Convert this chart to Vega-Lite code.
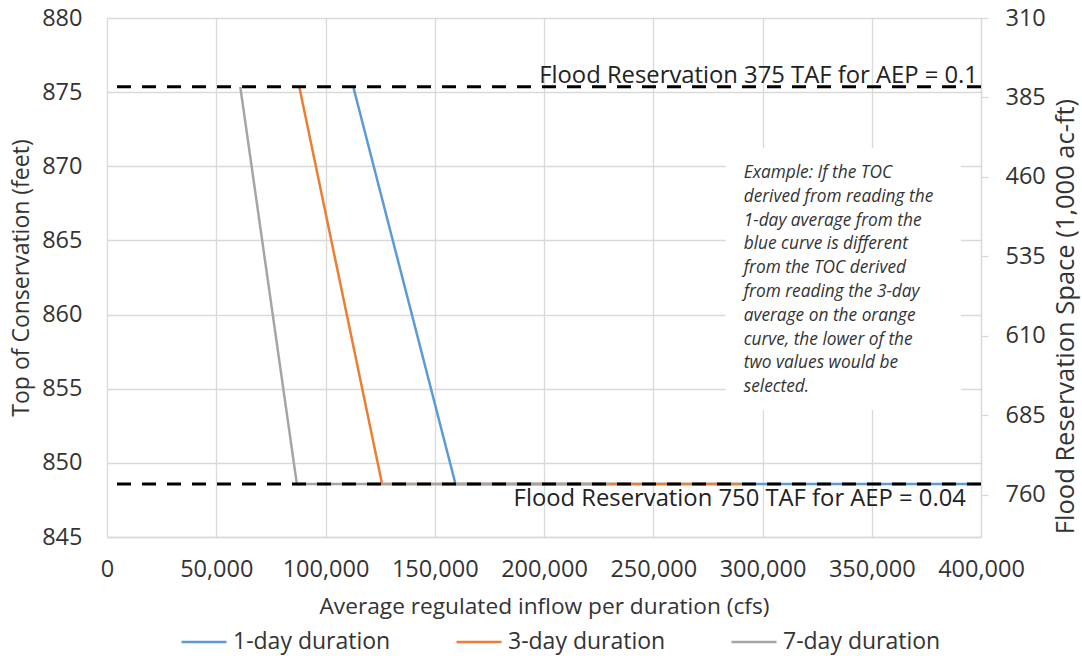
{
  "$schema": "https://vega.github.io/schema/vega-lite/v6.json",
  "width": 874,
  "height": 519,
  "autosize": {"type": "none"},
  "padding": {"left": 107, "top": 18, "right": 101, "bottom": 119},
  "background": "white",
  "config": {
    "font": "Open Sans",
    "view": {"stroke": null},
    "axis": {
      "labelFont": "Open Sans", "titleFont": "Open Sans",
      "labelFontSize": 23.5, "titleFontSize": 22.7,
      "labelColor": "#333333", "titleColor": "#333333",
      "titleFontWeight": "normal",
      "gridColor": "#d9d9d9", "gridWidth": 1.3,
      "domainColor": "#d9d9d9", "domainWidth": 1.3,
      "tickColor": "#d9d9d9", "tickWidth": 1.3
    },
    "legend": {
      "orient": "none", "legendX": 73, "legendY": 600,
      "direction": "horizontal", "symbolType": "stroke",
      "symbolSize": 2025, "symbolStrokeWidth": 2.5,
      "labelFont": "Open Sans", "labelFontSize": 23, "labelColor": "#333333",
      "labelOffset": 5, "columnPadding": 60, "padding": 0
    }
  },
  "datasets": {
    "curves": [
      {"x": 112700, "y": 875.36, "series": "1-day duration"},
      {"x": 159500, "y": 848.57, "series": "1-day duration"},
      {"x": 400000, "y": 848.57, "series": "1-day duration"},
      {"x": 88000, "y": 875.36, "series": "3-day duration"},
      {"x": 125900, "y": 848.57, "series": "3-day duration"},
      {"x": 290000, "y": 848.57, "series": "3-day duration"},
      {"x": 61000, "y": 875.36, "series": "7-day duration"},
      {"x": 86900, "y": 848.57, "series": "7-day duration"},
      {"x": 230000, "y": 848.57, "series": "7-day duration"}
    ],
    "reservation": [
      {"y": 875.36, "x": 398600, "label": "Flood Reservation 375 TAF for AEP = 0.1", "pos": "above"},
      {"y": 848.57, "x": 393100, "label": "Flood Reservation 750 TAF for AEP = 0.04", "pos": "below"}
    ],
    "box": [
      {"x": 283200, "x2": 390800, "y": 871.23, "y2": 853.57}
    ],
    "note": [
      {"x": 291400, "y": 870.16, "lines": ["Example: If the TOC", "derived from reading the", "1-day average from the", "blue curve is different", "from the TOC derived", "from reading the 3-day", "average on the orange", "curve, the lower of the", "two values would be", "selected."]}
    ]
  },
  "layer": [
    {
      "layer": [
        {
          "data": {"name": "box"},
          "mark": {"type": "rect", "fill": "white", "stroke": null},
          "encoding": {
            "x": {"field": "x", "type": "quantitative", "scale": {"domain": [0, 400000], "nice": false}},
            "x2": {"field": "x2"},
            "y": {"field": "y", "type": "quantitative", "scale": {"domain": [845, 880], "nice": false, "zero": false}},
            "y2": {"field": "y2"}
          }
        },
        {
          "data": {"name": "curves"},
          "mark": {"type": "line", "strokeWidth": 2.5},
          "encoding": {
            "x": {
              "field": "x", "type": "quantitative",
              "scale": {"domain": [0, 400000], "nice": false},
              "axis": {
                "title": "Average regulated inflow per duration (cfs)",
                "values": [0, 50000, 100000, 150000, 200000, 250000, 300000, 350000, 400000],
                "format": ",d", "ticks": false, "labelPadding": 20, "titlePadding": 15,
                "labelFlush": false, "labelOverlap": false
              }
            },
            "y": {
              "field": "y", "type": "quantitative",
              "scale": {"domain": [845, 880], "nice": false, "zero": false},
              "axis": {
                "title": "Top of Conservation (feet)",
                "titleFontSize": 23,
                "values": [845, 850, 855, 860, 865, 870, 875, 880],
                "ticks": false, "domain": false, "labelPadding": 25, "titlePadding": 8,
                "labelFlush": false, "labelOverlap": false
              }
            },
            "color": {
              "field": "series", "type": "nominal",
              "scale": {"domain": ["1-day duration", "3-day duration", "7-day duration"], "range": ["#5B9BD5", "#ED7D31", "#A5A5A5"]},
              "legend": {"title": null}
            }
          }
        },
        {
          "data": {"name": "reservation"},
          "mark": {"type": "rule", "color": "black", "strokeWidth": 3, "strokeDash": [14, 11]},
          "encoding": {
            "y": {"field": "y", "type": "quantitative"}
          }
        },
        {
          "data": {"name": "reservation"},
          "transform": [{"filter": "datum.pos === 'above'"}],
          "mark": {"type": "text", "align": "right", "baseline": "alphabetic", "dy": -4, "fontSize": 23.8, "color": "#222222"},
          "encoding": {
            "x": {"field": "x", "type": "quantitative"},
            "y": {"field": "y", "type": "quantitative"},
            "text": {"field": "label"}
          }
        },
        {
          "data": {"name": "reservation"},
          "transform": [{"filter": "datum.pos === 'below'"}],
          "mark": {"type": "text", "align": "right", "baseline": "top", "dy": 3, "fontSize": 23.8, "color": "#222222"},
          "encoding": {
            "x": {"field": "x", "type": "quantitative"},
            "y": {"field": "y", "type": "quantitative"},
            "text": {"field": "label"}
          }
        },
        {
          "data": {"name": "note"},
          "mark": {"type": "text", "align": "left", "baseline": "top", "fontSize": 17.3, "fontStyle": "italic", "lineHeight": 23.8, "color": "#333333"},
          "encoding": {
            "x": {"field": "x", "type": "quantitative"},
            "y": {"field": "y", "type": "quantitative"},
            "text": {"field": "lines"}
          }
        }
      ]
    },
    {
      "data": {"values": [{"R": 310}, {"R": 800}]},
      "mark": {"type": "point", "opacity": 0},
      "encoding": {
        "y": {
          "field": "R", "type": "quantitative",
          "scale": {"domain": [310, 800], "reverse": true, "nice": false, "zero": false},
          "axis": {
            "orient": "right",
            "title": "Flood Reservation Space (1,000 ac-ft)",
            "titleAngle": -90,
            "titleFontSize": 25.5,
            "titleX": 84,
            "titleY": 298,
            "titleAlign": "center",
            "titleBaseline": "middle",
            "values": [310, 385, 460, 535, 610, 685, 760],
            "grid": false, "ticks": true, "tickSize": 7, "domain": true,
            "labelPadding": 17,
            "labelFlush": false, "labelOverlap": false
          }
        }
      }
    }
  ],
  "resolve": {"scale": {"y": "independent"}, "axis": {"y": "independent"}}
}
